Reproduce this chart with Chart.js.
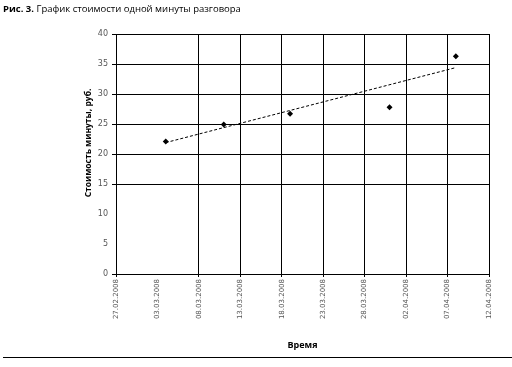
<!DOCTYPE html>
<html><head><meta charset="utf-8">
<script src="https://cdn.jsdelivr.net/npm/chart.js@4"></script>
<style>
html,body{margin:0;padding:0;background:#fff;}
#wrap{position:relative;width:512px;height:367px;overflow:hidden;}
#title{position:absolute;left:3px;top:2px;font-family:"Open Sans",sans-serif;font-size:9.5px;color:#000;white-space:nowrap;}
#title b{font-weight:700;}
#rule{position:absolute;left:3px;top:357px;width:509px;height:1px;background:#000;}
canvas{position:absolute;left:0;top:0;}
</style></head><body>
<div id="wrap">
<canvas id="c" width="512" height="367"></canvas>
<div id="title"><b>Рис. 3.</b> График стоимости одной минуты разговора</div>
<div id="rule"></div>
</div>
<script>
const startDate = "27.02.2008";
const pointDates = ["04.03.2008","11.03.2008","19.03.2008","31.03.2008","08.04.2008"];
const pointValues = [22.1, 24.9, 26.7, 27.8, 36.3];
const trendDates = ["04.03.2008","08.04.2008"];
const trendValues = [21.9, 34.4];
const xTickLabels = ["27.02.2008","03.03.2008","08.03.2008","13.03.2008","18.03.2008","23.03.2008","28.03.2008","02.04.2008","07.04.2008","12.04.2008"];
const yTicks = [0,5,10,15,20,25,30,35,40];
const hiddenXGrid = [5];
const hiddenYGrid = [5,10];
const xTitle = "Время";
const yTitle = "Стоимость минуты, руб.";

function parseD(s){const [d,m,y]=s.split('.').map(Number);return Date.UTC(y,m-1,d);}
const base = parseD(startDate);
function dayOf(s){return Math.round((parseD(s)-base)/86400000);}

const pts = pointDates.map((d,i)=>({x:dayOf(d),y:pointValues[i]}));
const trend = trendDates.map((d,i)=>({x:dayOf(d),y:trendValues[i]}));

const yTitlePlugin = {
  id:'ytitle',
  afterDraw(chart){
    const ctx=chart.ctx;
    ctx.save();
    ctx.translate(89,143);
    ctx.rotate(-Math.PI/2);
    ctx.font='bold 8.5px "Open Sans", sans-serif';
    ctx.fillStyle='#000';
    ctx.textAlign='center';
    ctx.textBaseline='middle';
    ctx.fillText(yTitle,0,0);
    ctx.restore();
  }
};

new Chart(document.getElementById('c'),{
  type:'scatter',
  data:{datasets:[
    {data:pts,pointStyle:'rectRot',pointRadius:3,pointBackgroundColor:'#000',pointBorderColor:'#000',borderWidth:0,showLine:false},
    {type:'line',data:trend,borderColor:'#000',borderWidth:1,borderDash:[3,2],pointRadius:0,fill:false,tension:0}
  ]},
  options:{
    responsive:false,animation:false,
    layout:{padding:{left:0,top:34,right:23,bottom:16}},
    plugins:{legend:{display:false},tooltip:{enabled:false},title:{display:false}},
    scales:{
      x:{type:'linear',min:0,max:45,
        afterBuildTicks(s){s.ticks=xTickLabels.map(l=>({value:dayOf(l)}));},
        afterFit(s){s.height=77;},
        grid:{color:c=>hiddenXGrid.includes(c.tick&&c.tick.value)?'rgba(0,0,0,0)':'#000',lineWidth:1,tickLength:3},
        border:{color:'#000',width:1},
        ticks:{maxRotation:90,minRotation:90,autoSkip:false,padding:2,color:'#555',
          font:{family:'"DejaVu Sans"',size:7},
          callback:(v,i)=>xTickLabels[i]},
        title:{display:true,text:xTitle,color:'#000',font:{family:'"Open Sans"',size:9,weight:'bold'},padding:{top:4,bottom:0}}
      },
      y:{min:0,max:40,
        afterBuildTicks(s){s.ticks=yTicks.map(v=>({value:v}));},
        afterFit(s){s.width=116;},
        grid:{color:c=>hiddenYGrid.includes(c.tick&&c.tick.value)?'rgba(0,0,0,0)':'#000',lineWidth:1,tickLength:4},
        border:{color:'#000',width:1},
        ticks:{padding:4,color:'#555',font:{family:'"DejaVu Sans"',size:8}}
      }
    }
  },
  plugins:[yTitlePlugin]
});
</script>
</body></html>
